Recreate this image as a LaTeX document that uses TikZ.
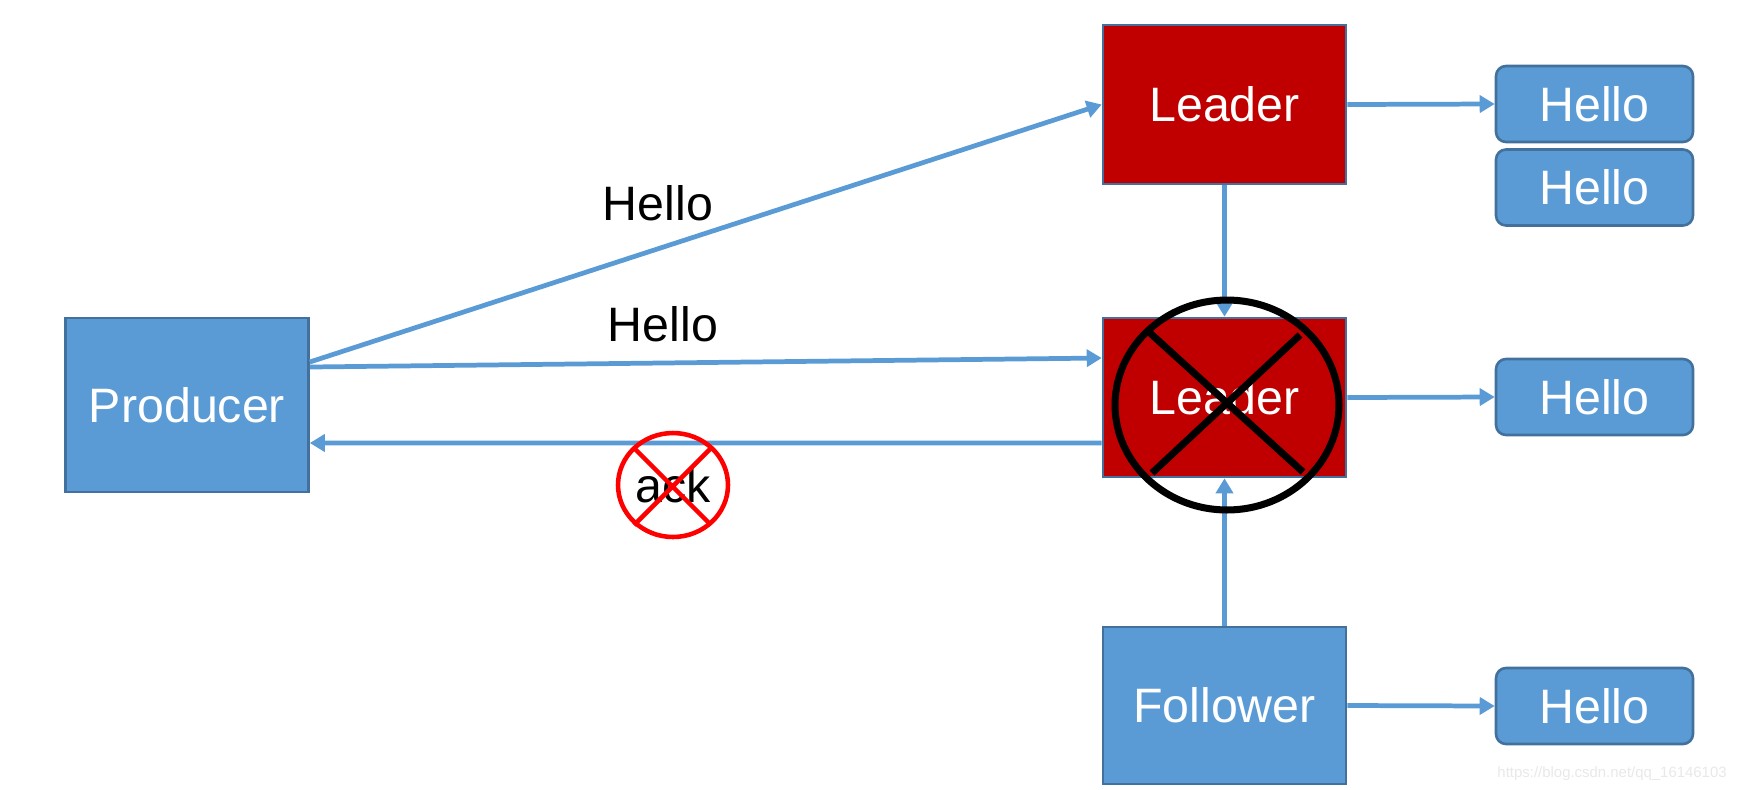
\documentclass[tikz,border=0pt]{standalone}
\usepackage{fontspec}
\setmainfont{Liberation Sans}
\usepackage{tikz}
\usetikzlibrary{arrows.meta,positioning,calc}
\definecolor{boxblue}{RGB}{91, 155, 213}
\definecolor{boxedge}{RGB}{65, 113, 156}
\definecolor{deadred}{RGB}{192, 0, 0}
\definecolor{markred}{RGB}{255, 0, 0}
\definecolor{wmgray}{RGB}{232, 232, 232}

\tikzset{
    unit/.style={draw=boxedge, line width=1.5pt, text=white, inner sep=0pt,
        font=\fontsize{27.5}{32}\selectfont},
    bigbox/.style={unit, fill=boxblue, minimum width=4.86cm, minimum height=3.18cm},
    leaderbox/.style={bigbox, fill=deadred},
    msgbox/.style={unit, fill=boxblue, rounded corners=0.2cm,
        minimum width=3.94cm, minimum height=1.52cm},
    msglabel/.style={font=\fontsize{27.5}{32}\selectfont, text=black, inner sep=0pt},
    flow/.style={draw=boxblue, line width=2.7pt,
        -{Triangle[length=0.3cm, width=0.34cm]}},
}

\begin{document}
\begin{tikzpicture}[x=0.02cm, y=-0.02cm]
    \useasboundingbox (0,0) rectangle (1737,789);

    % brokers
    \node[bigbox, minimum height=3.48cm] (prod) at (187,405) {Producer};
    \node[leaderbox] (lead1) at (1224.5,104.5) {Leader};
    \node[leaderbox] (lead2) at (1224.5,397.5) {Leader};
    \node[bigbox, minimum height=3.14cm] (foll) at (1224.5,705.5) {Follower};

    % stored messages
    \node[msgbox] (msgA) at (1594.5,104) {Hello};
    \node[msgbox] (msgB) at (1594.5,187.5) {Hello};
    \node[msgbox] (msgC) at (1594.5,397) {Hello};
    \node[msgbox] (msgD) at (1594.5,706) {Hello};

    % send / ack
    \draw[flow] ([yshift=0.86cm]prod.east) -- (lead1.west);
    \draw[flow] ([yshift=0.76cm]prod.east) -- ([yshift=0.79cm]lead2.west);
    \draw[flow] ([yshift=-0.91cm]lead2.west) -- ([yshift=-0.76cm]prod.east);
    \node[msglabel] (sendA) at (658,203) {Hello};
    \node[msglabel] (sendB) at (663,324) {Hello};
    \node[msglabel] (ack) at (673,485) {ack};

    % replication
    \draw[flow] (lead1.south) -- (lead2.north);
    \draw[flow] (foll.north) -- (lead2.south);
    \draw[flow] (lead1.east) -- (msgA.west);
    \draw[flow] (lead2.east) -- (msgC.west);
    \draw[flow] (foll.east) -- (msgD.west);

    % failures
    \draw[black, line width=4pt] (1227,405) ellipse [x radius=2.24cm, y radius=2.1cm];
    \draw[black, line width=4pt] (1150,333) -- (1303,472) (1300,335) -- (1152,473);
    \draw[markred, line width=2.6pt] (ack) ellipse [x radius=1.1cm, y radius=1.04cm];
    \draw[markred, line width=2.6pt] (634,448) -- (711,525) (711,448) -- (634,525);

    \node[text=wmgray, font=\fontsize{8.5}{10}\selectfont, anchor=base east, inner sep=0pt]
        (mark) at (1727,777) {https://blog.csdn.net/qq\_16146103};
\end{tikzpicture}
\end{document}
